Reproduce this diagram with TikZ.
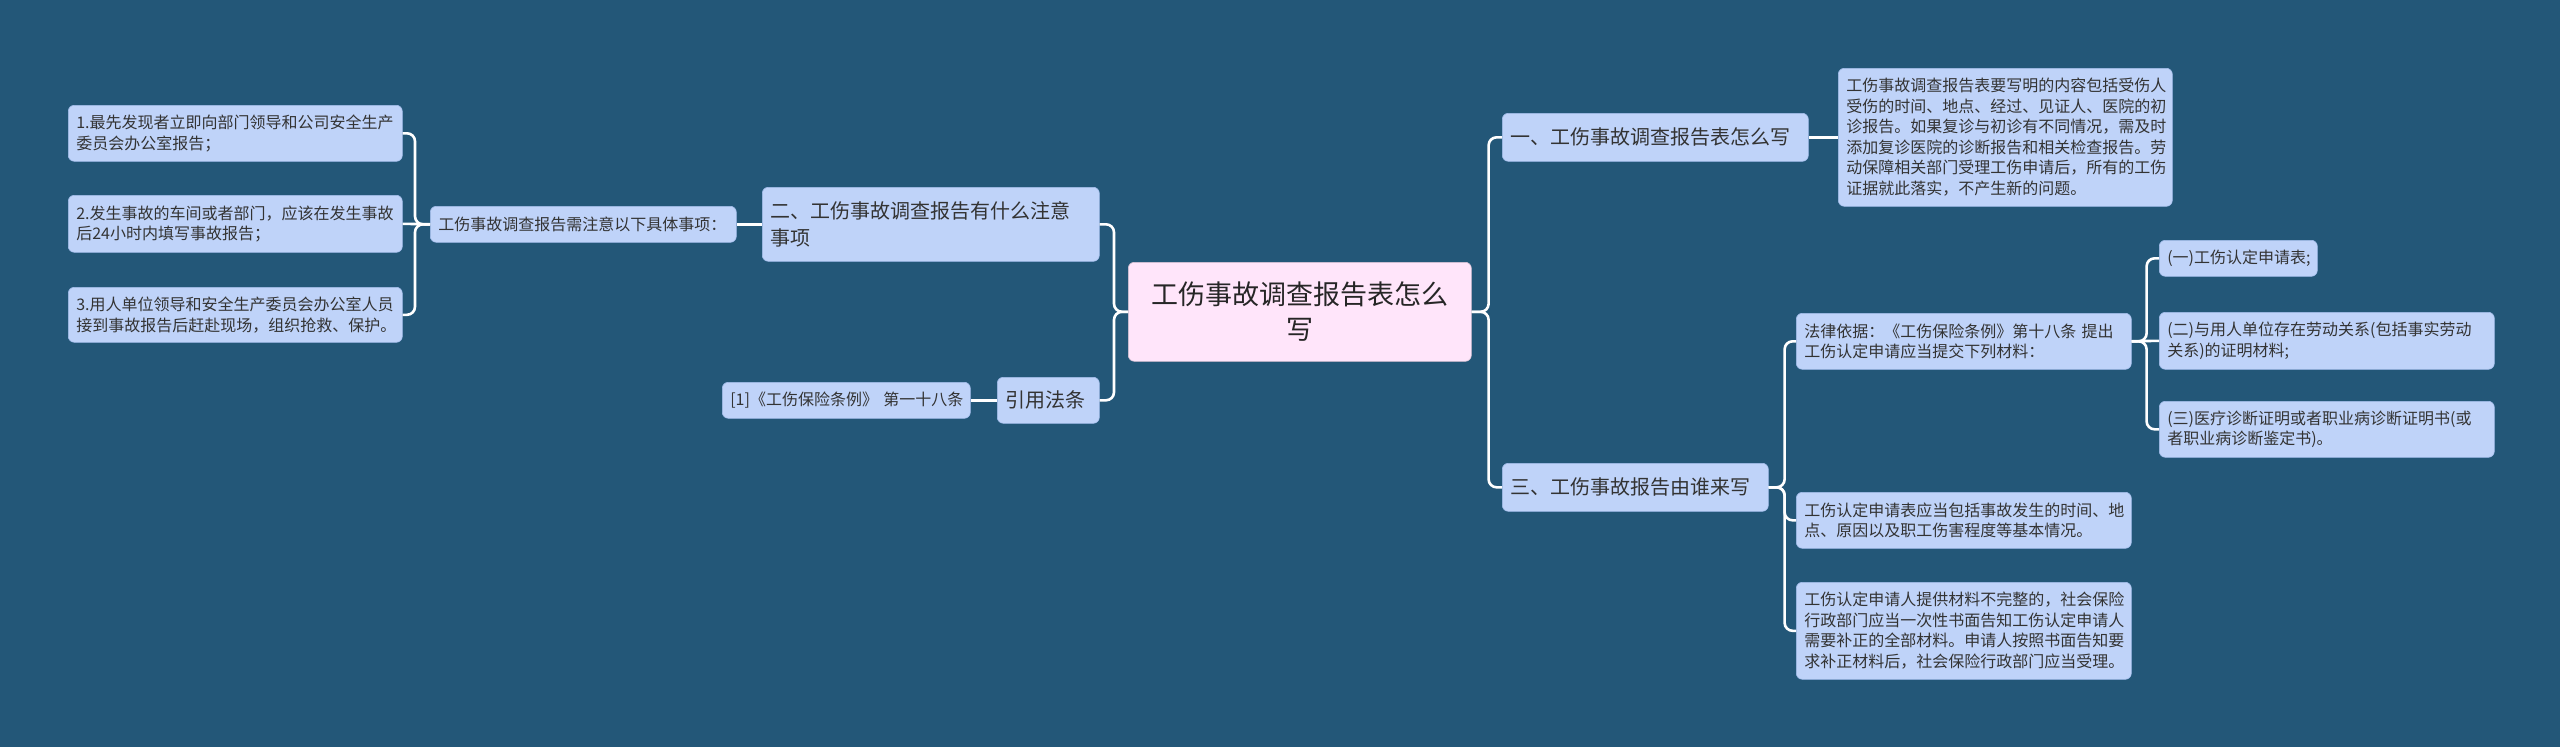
\documentclass[tikz,border=0pt]{standalone}
\usepackage{fontspec}
\setmainfont{Noto Sans CJK SC}
\definecolor{bgc}{HTML}{235778}
\definecolor{nodefill}{HTML}{BFD3F9}
\definecolor{nodeedge}{HTML}{A3BDEB}
\definecolor{centerfill}{HTML}{FFE5FA}
\definecolor{txt}{HTML}{333333}
\tikzset{
  box/.style={anchor=north west, fill=nodefill, draw=nodeedge, line width=0.6pt,
    rounded corners=6pt, text=txt, inner xsep=8pt, inner ysep=0pt, align=left,
    font=\fontsize{16}{20.5}\selectfont},
  bigbox/.style={box, font=\fontsize{20}{26.5}\selectfont},
  rootbox/.style={box, fill=centerfill, draw=centerfill!85!black, align=center,
    text=black!85, font=\fontsize{27}{35}\selectfont},
  conn/.style={draw=white, line width=2.6pt, rounded corners=8pt}
}
\begin{document}
\begin{tikzpicture}[x=1pt,y=-1pt]
\fill[bgc] (0,0) rectangle (2560,747);
\useasboundingbox (0,0) rectangle (2560,747);

% root
\node[rootbox, minimum width=343pt, text width=327pt, minimum height=99pt] (root) at (1128,262)
  {工伤事故调查报告表怎么\\写};

% left side
\node[bigbox, minimum width=337pt, text width=321pt, minimum height=74pt] (b2) at (762,187)
  {二、工伤事故调查报告有什么注意\\事项};
\node[box, minimum width=302pt, text width=290pt, minimum height=36pt] (s2) at (430,206)
  {工伤事故调查报告需注意以下具体事项：};
\node[box, minimum width=332pt, text width=318pt, minimum height=56pt] (n1) at (68,105)
  {1.最先发现者立即向部门领导和公司安全生产\\委员会办公室报告；};
\node[box, minimum width=332pt, text width=318pt, minimum height=57pt] (n2) at (68,195)
  {2.发生事故的车间或者部门，应该在发生事故\\后24小时内填写事故报告；};
\node[box, minimum width=332pt, text width=318pt, minimum height=55pt] (n3) at (68,287)
  {3.用人单位领导和安全生产委员会办公室人员\\接到事故报告后赶赴现场，组织抢救、保护。};
\node[bigbox, minimum width=102pt, text width=86pt, minimum height=46pt] (b4) at (997,377)
  {引用法条};
\node[box, minimum width=244pt, text width=232pt, minimum height=36pt] (s4) at (722,382)
  {\mbox{[1]《工伤保险条例》 第一十八条}};

% right side
\node[bigbox, minimum width=304pt, text width=290pt, minimum height=48pt] (b1) at (1502,113)
  {一、工伤事故调查报告表怎么写};
\node[box, minimum width=332pt, text width=318pt, minimum height=138pt] (t1) at (1838,68)
  {工伤事故调查报告表要写明的内容包括受伤人\\受伤的时间、地点、经过、见证人、医院的初\\诊报告。如果复诊与初诊有不同情况，需及时\\添加复诊医院的诊断报告和相关检查报告。劳\\动保障相关部门受理工伤申请后，所有的工伤\\证据就此落实，不产生新的问题。};
\node[bigbox, minimum width=264pt, text width=250pt, minimum height=48pt] (b3) at (1502,463)
  {三、工伤事故报告由谁来写};
\node[box, minimum width=333pt, text width=319pt, minimum height=56pt] (s31) at (1796,313)
  {\mbox{法律依据：《工伤保险条例》第十八条 提出}\\工伤认定申请应当提交下列材料：};
\node[box, minimum width=156pt, text width=142pt, minimum height=36pt] (c1) at (2159,240)
  {(一)工伤认定申请表;};
\node[box, minimum width=333pt, text width=319pt, minimum height=57pt] (c2) at (2159,312)
  {(二)与用人单位存在劳动关系(包括事实劳动\\关系)的证明材料;};
\node[box, minimum width=333pt, text width=319pt, minimum height=56pt] (c3) at (2159,401)
  {(三)医疗诊断证明或者职业病诊断证明书(或\\者职业病诊断鉴定书)。};
\node[box, minimum width=333pt, text width=319pt, minimum height=56pt] (s32) at (1796,492)
  {工伤认定申请表应当包括事故发生的时间、地\\点、原因以及职工伤害程度等基本情况。};
\node[box, minimum width=333pt, text width=319pt, minimum height=97pt] (s33) at (1796,582)
  {工伤认定申请人提供材料不完整的，社会保险\\行政部门应当一次性书面告知工伤认定申请人\\需要补正的全部材料。申请人按照书面告知要\\求补正材料后，社会保险行政部门应当受理。};

% connectors
\draw[conn] (root.west) -- ++(-14,0) |- (b2.east);
\draw[conn] (root.west) -- ++(-14,0) |- (b4.east);
\draw[conn] (b2.west) -- (s2.east);
\draw[conn] (s2.west) -- ++(-15,0) |- (n1.east);
\draw[conn] (s2.west) -- (n2.east);
\draw[conn] (s2.west) -- ++(-15,0) |- (n3.east);
\draw[conn] (b4.west) -- (s4.east);
\draw[conn] (root.east) -- ++(17,0) |- (b1.west);
\draw[conn] (root.east) -- ++(17,0) |- (b3.west);
\draw[conn] (b1.east) -- (t1.west);
\draw[conn] (b3.east) -- ++(16,0) |- (s31.west);
\draw[conn] (b3.east) -- ++(16,0) |- (s32.west);
\draw[conn] (b3.east) -- ++(16,0) |- (s33.west);
\draw[conn] (s31.east) -- ++(15,0) |- (c1.west);
\draw[conn] (s31.east) -- (c2.west);
\draw[conn] (s31.east) -- ++(15,0) |- (c3.west);
\end{tikzpicture}
\end{document}
